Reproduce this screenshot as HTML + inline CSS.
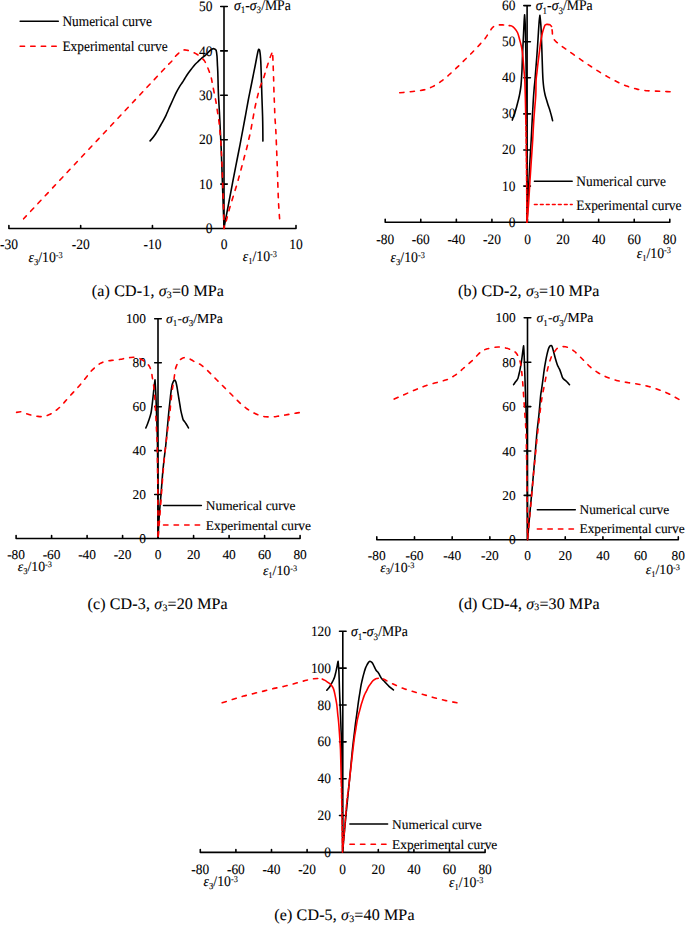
<!DOCTYPE html>
<html><head><meta charset="utf-8"><title>Stress-strain curves</title><style>
html,body{margin:0;padding:0;background:#fff;}
svg{display:block;}
text{font-family:"Liberation Serif",serif;fill:#000;text-rendering:geometricPrecision;}
text.c{stroke:#000;stroke-width:0.1;}
text.cap{letter-spacing:0.16px;stroke:#000;stroke-width:0.1;}
</style></head><body>
<svg width="685" height="925" viewBox="0 0 685 925">
<rect width="685" height="925" fill="#fff"/>
<path d="M8.9,228.5 H296 M8.90,228.5 V225.60 M80.68,228.5 V225.60 M152.45,228.5 V225.60 M224.22,228.5 V225.60 M296.00,228.5 V225.60 M224,6.50 V228.5 M220.7,184.10 H227.3 M220.7,139.70 H227.3 M220.7,95.30 H227.3 M220.7,50.90 H227.3 M220.7,6.50 H227.3" fill="none" stroke="#000" stroke-width="1.6" stroke-linecap="round" stroke-linejoin="round"/>
<text class="c" transform="matrix(1,0,0,1.07,0,-16.317)" x="212.40" y="233.10" font-size="13.5" text-anchor="end">0</text>
<text class="c" transform="matrix(1,0,0,1.07,0,-13.209)" x="212.40" y="188.70" font-size="13.5" text-anchor="end">10</text>
<text class="c" transform="matrix(1,0,0,1.07,0,-10.101)" x="212.40" y="144.30" font-size="13.5" text-anchor="end">20</text>
<text class="c" transform="matrix(1,0,0,1.07,0,-6.993)" x="212.40" y="99.90" font-size="13.5" text-anchor="end">30</text>
<text class="c" transform="matrix(1,0,0,1.07,0,-3.885)" x="212.40" y="55.50" font-size="13.5" text-anchor="end">40</text>
<text class="c" transform="matrix(1,0,0,1.07,0,-0.777)" x="212.40" y="11.10" font-size="13.5" text-anchor="end">50</text>
<text class="c" transform="matrix(1,0,0,1.07,0,-17.430)" x="8.90" y="249.00" font-size="13.5" text-anchor="middle">-30</text>
<text class="c" transform="matrix(1,0,0,1.07,0,-17.430)" x="80.68" y="249.00" font-size="13.5" text-anchor="middle">-20</text>
<text class="c" transform="matrix(1,0,0,1.07,0,-17.430)" x="152.45" y="249.00" font-size="13.5" text-anchor="middle">-10</text>
<text class="c" transform="matrix(1,0,0,1.07,0,-17.430)" x="224.22" y="249.00" font-size="13.5" text-anchor="middle">0</text>
<text class="c" transform="matrix(1,0,0,1.07,0,-17.430)" x="296.00" y="249.00" font-size="13.5" text-anchor="middle">10</text>
<text class="c" transform="matrix(1,0,0,1.07,0,-0.672)" x="234.00" y="9.60" font-size="13.7" text-anchor="start"><tspan font-style="italic">σ</tspan><tspan font-size="9.04" dy="3.42">1</tspan><tspan dy="-3.42">-</tspan><tspan font-style="italic">σ</tspan><tspan font-size="9.04" dy="3.42">3</tspan><tspan dy="-3.42">/MPa</tspan></text>
<text class="c" transform="matrix(1,0,0,1.07,0,-18.340)" x="28.50" y="262.00" font-size="13.8" text-anchor="start"><tspan font-style="italic">ε</tspan><tspan font-size="8.56" dy="2.76">3</tspan><tspan dy="-2.76">/10</tspan><tspan font-size="8.28" dy="-4.00">-3</tspan></text>
<text class="c" transform="matrix(1,0,0,1.07,0,-18.270)" x="242.70" y="261.00" font-size="13.8" text-anchor="start"><tspan font-style="italic">ε</tspan><tspan font-size="8.56" dy="2.76">1</tspan><tspan dy="-2.76">/10</tspan><tspan font-size="8.28" dy="-4.00">-3</tspan></text>
<text class="cap" transform="matrix(1,0,0,1.0,0,0.000)" x="91.80" y="296.30" font-size="16" text-anchor="start"><tspan>(a) CD-1, </tspan><tspan font-style="italic">σ</tspan><tspan font-size="9.92" dy="1.44">3</tspan><tspan dy="-1.44">=0 MPa</tspan></text>
<line x1="20.1" y1="21.2" x2="58.3" y2="21.2" stroke="#000" stroke-width="1.5" stroke-linecap="round"/>
<line x1="20.1" y1="46.3" x2="58.3" y2="46.3" stroke="#ff0000" stroke-width="1.5" stroke-dasharray="4.5 6.05" stroke-linecap="round"/>
<text class="c" transform="matrix(1,0,0,1.08,0,-2.040)" x="62.40" y="25.50" font-size="13.4" text-anchor="start">Numerical curve</text>
<text class="c" transform="matrix(1,0,0,1.08,0,-4.064)" x="62.40" y="50.80" font-size="13.4" text-anchor="start">Experimental curve</text>
<path d="M150.10,140.90 C150.10,140.90 152.27,138.50 153.20,137.30 C154.13,136.10 154.85,134.98 155.70,133.70 C156.55,132.42 157.45,131.05 158.30,129.60 C159.15,128.15 159.95,126.53 160.80,125.00 C161.65,123.47 162.53,122.02 163.40,120.40 C164.27,118.78 165.23,116.92 166.00,115.30 C166.77,113.68 167.33,112.23 168.00,110.70 C168.67,109.17 169.20,107.88 170.00,106.10 C170.80,104.32 171.77,102.25 172.80,100.00 C173.83,97.75 175.10,94.80 176.20,92.60 C177.30,90.40 178.38,88.48 179.40,86.80 C180.42,85.12 181.40,83.88 182.30,82.50 C183.20,81.12 183.93,79.88 184.80,78.50 C185.67,77.12 186.40,75.78 187.50,74.20 C188.60,72.62 190.15,70.62 191.40,69.00 C192.65,67.38 193.82,65.80 195.00,64.50 C196.18,63.20 197.45,62.20 198.50,61.20 C199.55,60.20 200.17,59.48 201.30,58.50 C202.43,57.52 203.95,56.52 205.30,55.30 C206.65,54.08 208.25,52.27 209.40,51.20 C210.46,50.21 211.33,49.28 212.20,48.90 C213.07,48.52 213.93,48.65 214.60,48.90 C215.27,49.15 215.92,49.57 216.20,50.40 C216.60,51.60 216.80,53.82 217.00,56.10 C217.20,58.38 217.27,61.43 217.40,64.10 C217.53,66.77 217.69,68.90 217.80,72.10 C217.97,76.98 218.13,86.78 218.40,93.40 C218.67,100.02 219.08,105.67 219.40,111.80 C219.72,117.93 220.00,124.07 220.30,130.20 C220.60,136.33 220.95,142.80 221.20,148.60 C221.45,154.40 221.58,158.93 221.80,165.00 C222.02,171.07 222.27,178.33 222.50,185.00 C222.73,191.67 222.95,197.87 223.20,205.00 C223.45,212.13 224.00,227.80 224.00,227.80 C224.00,227.80 225.33,220.80 226.00,217.30 C226.67,213.80 227.33,210.30 228.00,206.80 C228.67,203.30 229.33,199.80 230.00,196.30 C230.67,192.80 231.33,189.30 232.00,185.80 C232.67,182.30 233.19,179.50 234.00,175.30 C234.83,171.00 236.00,165.08 237.00,160.00 C238.00,154.92 239.00,150.00 240.00,144.80 C241.00,139.60 242.05,133.88 243.00,128.80 C243.95,123.72 244.82,119.10 245.70,114.30 C246.58,109.50 247.47,104.38 248.30,100.00 C249.13,95.62 249.92,91.92 250.70,88.00 C251.48,84.08 252.25,80.25 253.00,76.50 C253.75,72.75 254.55,68.83 255.20,65.50 C255.85,62.17 256.43,58.88 256.90,56.50 C257.32,54.38 257.68,52.40 258.00,51.20 C258.21,50.40 258.53,49.47 258.80,49.30 C259.07,49.13 259.48,49.73 259.60,50.20 C259.85,51.13 260.11,53.01 260.30,54.90 C260.50,56.87 260.67,59.48 260.80,62.00 C260.93,64.52 260.99,66.80 261.10,70.00 C261.22,73.33 261.38,78.10 261.50,82.00 C261.62,85.90 261.68,89.57 261.80,93.40 C261.92,97.23 262.07,101.10 262.20,105.00 C262.33,108.90 262.50,112.97 262.60,116.80 C262.70,120.63 262.75,123.95 262.80,128.00 C262.85,132.05 262.90,141.10 262.90,141.10" fill="none" stroke="#000" stroke-width="1.6" stroke-linejoin="round" stroke-linecap="round"/>
<path d="M23.60,218.80 C23.60,218.80 144.00,90.47 168.40,64.50 C169.00,63.86 169.38,63.62 170.00,63.00 C170.65,62.35 171.50,61.60 172.30,60.60 C173.10,59.60 173.63,58.31 174.80,57.00 C176.02,55.63 178.12,53.57 179.60,52.40 C181.08,51.23 182.35,50.33 183.70,50.00 C185.05,49.67 186.23,50.07 187.70,50.40 C189.17,50.73 190.90,51.32 192.50,52.00 C194.10,52.68 195.83,53.55 197.30,54.50 C198.77,55.45 200.10,56.63 201.30,57.70 C202.50,58.77 203.57,59.57 204.50,60.90 C205.43,62.23 206.08,63.83 206.90,65.70 C207.72,67.57 208.67,70.05 209.40,72.10 C210.13,74.15 210.78,75.98 211.30,78.00 C211.82,80.02 212.02,81.72 212.50,84.20 C213.00,86.77 213.70,90.33 214.30,93.40 C214.90,96.47 215.57,99.53 216.10,102.60 C216.63,105.67 217.03,108.73 217.50,111.80 C217.97,114.87 218.52,117.93 218.90,121.00 C219.28,124.07 219.52,127.13 219.80,130.20 C220.08,133.27 220.37,136.33 220.60,139.40 C220.83,142.47 221.02,145.53 221.20,148.60 C221.38,151.67 221.53,154.12 221.70,157.80 C221.88,161.70 222.12,167.30 222.30,172.00 C222.48,176.70 222.63,181.33 222.80,186.00 C222.97,190.67 223.15,195.33 223.30,200.00 C223.45,204.67 223.57,209.25 223.70,214.00 C223.83,218.75 224.10,228.50 224.10,228.50" fill="none" stroke="#ff0000" stroke-width="1.6" stroke-dasharray="4.4 6.2" stroke-linejoin="round" stroke-linecap="round"/>
<path d="M279.60,218.80 C279.60,218.80 278.74,207.53 278.40,200.00 C278.00,191.03 277.63,176.67 277.20,165.00 C276.77,153.33 276.18,138.03 275.80,130.00 C275.55,124.71 275.12,120.97 274.90,116.80 C274.68,112.63 274.65,108.90 274.50,105.00 C274.35,101.10 274.15,97.90 274.00,93.40 C273.85,88.90 273.75,82.87 273.60,78.00 C273.45,73.13 273.27,68.63 273.10,64.20 C272.93,59.77 272.60,51.40 272.60,51.40 C272.60,51.40 272.00,52.84 271.60,53.80 C271.20,54.77 270.69,55.81 270.20,57.20 C269.48,59.23 268.12,63.45 267.30,66.00 C266.48,68.55 265.98,70.27 265.30,72.50 C264.62,74.73 264.03,77.08 263.20,79.40 C262.37,81.72 261.25,83.55 260.30,86.40 C259.35,89.25 258.38,93.00 257.50,96.50 C256.62,100.00 255.83,103.32 255.00,107.40 C254.17,111.48 253.27,116.85 252.50,121.00 C251.73,125.15 251.05,129.13 250.40,132.30 C249.76,135.40 249.18,137.47 248.60,140.00 C248.02,142.53 247.57,144.83 246.90,147.50 C246.23,150.17 245.38,153.08 244.60,156.00 C243.82,158.92 243.07,161.75 242.20,165.00 C241.33,168.25 240.37,171.98 239.40,175.50 C238.43,179.02 237.50,182.38 236.40,186.10 C235.30,189.82 233.98,193.92 232.80,197.80 C231.62,201.68 230.35,205.70 229.30,209.40 C228.25,213.10 227.37,216.82 226.50,220.00 C225.63,223.18 224.10,228.50 224.10,228.50" fill="none" stroke="#ff0000" stroke-width="1.6" stroke-dasharray="4.4 6.2" stroke-linejoin="round" stroke-linecap="round"/>
<path d="M385.2,222.2 H669.8 M385.20,222.2 V219.30 M420.77,222.2 V219.30 M456.35,222.2 V219.30 M491.92,222.2 V219.30 M527.50,222.2 V219.30 M563.07,222.2 V219.30 M598.65,222.2 V219.30 M634.22,222.2 V219.30 M669.80,222.2 V219.30 M527.1,5.60 V222.2 M523.8000000000001,186.10 H530.4 M523.8000000000001,150.00 H530.4 M523.8000000000001,113.90 H530.4 M523.8000000000001,77.80 H530.4 M523.8000000000001,41.70 H530.4 M523.8000000000001,5.60 H530.4" fill="none" stroke="#000" stroke-width="1.6" stroke-linecap="round" stroke-linejoin="round"/>
<text class="c" transform="matrix(1,0,0,1.07,0,-15.862)" x="515.40" y="226.60" font-size="13.4" text-anchor="end">0</text>
<text class="c" transform="matrix(1,0,0,1.07,0,-13.335)" x="515.40" y="190.50" font-size="13.4" text-anchor="end">10</text>
<text class="c" transform="matrix(1,0,0,1.07,0,-10.808)" x="515.40" y="154.40" font-size="13.4" text-anchor="end">20</text>
<text class="c" transform="matrix(1,0,0,1.07,0,-8.281)" x="515.40" y="118.30" font-size="13.4" text-anchor="end">30</text>
<text class="c" transform="matrix(1,0,0,1.07,0,-5.754)" x="515.40" y="82.20" font-size="13.4" text-anchor="end">40</text>
<text class="c" transform="matrix(1,0,0,1.07,0,-3.227)" x="515.40" y="46.10" font-size="13.4" text-anchor="end">50</text>
<text class="c" transform="matrix(1,0,0,1.07,0,-0.700)" x="515.40" y="10.00" font-size="13.4" text-anchor="end">60</text>
<text class="c" transform="matrix(1,0,0,1.07,0,-17.045)" x="385.20" y="243.50" font-size="13.4" text-anchor="middle">-80</text>
<text class="c" transform="matrix(1,0,0,1.07,0,-17.045)" x="420.77" y="243.50" font-size="13.4" text-anchor="middle">-60</text>
<text class="c" transform="matrix(1,0,0,1.07,0,-17.045)" x="456.35" y="243.50" font-size="13.4" text-anchor="middle">-40</text>
<text class="c" transform="matrix(1,0,0,1.07,0,-17.045)" x="491.92" y="243.50" font-size="13.4" text-anchor="middle">-20</text>
<text class="c" transform="matrix(1,0,0,1.07,0,-17.045)" x="527.50" y="243.50" font-size="13.4" text-anchor="middle">0</text>
<text class="c" transform="matrix(1,0,0,1.07,0,-17.045)" x="563.07" y="243.50" font-size="13.4" text-anchor="middle">20</text>
<text class="c" transform="matrix(1,0,0,1.07,0,-17.045)" x="598.65" y="243.50" font-size="13.4" text-anchor="middle">40</text>
<text class="c" transform="matrix(1,0,0,1.07,0,-17.045)" x="634.22" y="243.50" font-size="13.4" text-anchor="middle">60</text>
<text class="c" transform="matrix(1,0,0,1.07,0,-17.045)" x="669.80" y="243.50" font-size="13.4" text-anchor="middle">80</text>
<text class="c" transform="matrix(1,0,0,1.07,0,-0.721)" x="535.80" y="10.30" font-size="13.7" text-anchor="start"><tspan font-style="italic">σ</tspan><tspan font-size="9.04" dy="3.42">1</tspan><tspan dy="-3.42">-</tspan><tspan font-style="italic">σ</tspan><tspan font-size="9.04" dy="3.42">3</tspan><tspan dy="-3.42">/MPa</tspan></text>
<text class="c" transform="matrix(1,0,0,1.07,0,-18.333)" x="390.60" y="261.90" font-size="13.8" text-anchor="start"><tspan font-style="italic">ε</tspan><tspan font-size="8.56" dy="2.76">3</tspan><tspan dy="-2.76">/10</tspan><tspan font-size="8.28" dy="-4.00">-3</tspan></text>
<text class="c" transform="matrix(1,0,0,1.07,0,-18.032)" x="671.00" y="257.60" font-size="13.8" text-anchor="end"><tspan font-style="italic">ε</tspan><tspan font-size="8.56" dy="2.76">1</tspan><tspan dy="-2.76">/10</tspan><tspan font-size="8.28" dy="-4.00">-3</tspan></text>
<text class="cap" transform="matrix(1,0,0,1.0,0,0.000)" x="458.10" y="296.30" font-size="16" text-anchor="start"><tspan>(b) CD-2, </tspan><tspan font-style="italic">σ</tspan><tspan font-size="9.92" dy="1.44">3</tspan><tspan dy="-1.44">=10 MPa</tspan></text>
<line x1="534.4" y1="181.3" x2="572.2" y2="181.3" stroke="#000" stroke-width="1.5" stroke-linecap="round"/>
<line x1="534.4" y1="204.6" x2="572.2" y2="204.6" stroke="#ff0000" stroke-width="1.5" stroke-dasharray="2.8 3.2" stroke-linecap="round"/>
<text class="c" transform="matrix(1,0,0,1.07,0,-12.985)" x="576.30" y="185.50" font-size="13.4" text-anchor="start">Numerical curve</text>
<text class="c" transform="matrix(1,0,0,1.07,0,-14.665)" x="576.30" y="209.50" font-size="13.4" text-anchor="start">Experimental curve</text>
<path d="M512.30,120.10 C512.30,120.10 513.08,117.70 513.50,116.50 C513.92,115.30 514.35,114.27 514.80,112.90 C515.25,111.53 515.77,109.83 516.20,108.30 C516.63,106.77 517.02,105.17 517.40,103.70 C517.78,102.23 518.17,100.87 518.50,99.50 C518.83,98.13 519.10,97.00 519.40,95.50 C519.70,94.00 520.03,92.20 520.30,90.50 C520.57,88.80 520.82,87.05 521.00,85.30 C521.18,83.55 521.26,82.12 521.40,80.00 C521.57,77.45 521.82,74.00 522.00,70.00 C522.18,65.92 522.33,59.67 522.50,55.50 C522.67,51.33 522.82,48.80 523.00,45.00 C523.18,41.20 523.42,36.53 523.60,32.70 C523.78,28.87 523.93,24.97 524.10,22.00 C524.26,19.16 524.60,14.90 524.60,14.90 C524.60,14.90 524.96,19.16 525.10,22.00 C525.25,24.97 525.40,28.42 525.50,32.70 C525.63,38.28 525.77,47.62 525.90,55.50 C526.03,63.38 526.20,70.92 526.30,80.00 C526.40,89.08 526.43,98.33 526.50,110.00 C526.57,121.67 526.63,136.67 526.70,150.00 C526.77,163.33 526.83,178.00 526.90,190.00 C526.97,202.00 527.10,222.00 527.10,222.00 C527.10,222.00 528.02,200.33 528.50,190.00 C528.98,179.67 529.55,168.33 530.00,160.00 C530.43,152.00 530.83,146.67 531.20,140.00 C531.57,133.33 531.85,126.67 532.20,120.00 C532.55,113.33 532.97,105.33 533.30,100.00 C533.60,95.20 533.92,91.33 534.20,88.00 C534.47,84.80 534.73,83.20 535.00,80.00 C535.28,76.67 535.58,72.08 535.90,68.00 C536.22,63.92 536.60,59.50 536.90,55.50 C537.20,51.50 537.45,47.80 537.70,44.00 C537.95,40.20 538.15,36.53 538.40,32.70 C538.65,28.87 538.95,23.90 539.20,21.00 C539.40,18.71 539.90,15.30 539.90,15.30 C539.90,15.30 540.40,19.73 540.60,22.00 C540.80,24.27 540.96,26.14 541.10,28.90 C541.25,31.90 541.38,36.83 541.50,40.00 C541.62,43.16 541.69,44.74 541.80,47.90 C541.92,51.23 542.07,55.98 542.20,60.00 C542.33,64.02 542.47,68.67 542.60,72.00 C542.73,75.20 542.80,77.33 543.00,80.00 C543.20,82.67 543.47,85.58 543.80,88.00 C544.13,90.42 544.55,92.53 545.00,94.50 C545.45,96.47 546.00,98.10 546.50,99.80 C547.00,101.50 547.52,103.20 548.00,104.70 C548.48,106.20 548.97,107.43 549.40,108.80 C549.83,110.17 550.23,111.62 550.60,112.90 C550.97,114.18 551.27,115.22 551.60,116.50 C551.93,117.78 552.60,120.60 552.60,120.60" fill="none" stroke="#000" stroke-width="1.6" stroke-linejoin="round" stroke-linecap="round"/>
<path d="M399.70,92.80 C399.70,92.80 403.82,92.42 406.00,92.20 C408.18,91.98 410.80,91.73 412.80,91.50 C414.80,91.27 416.17,91.07 418.00,90.80 C419.83,90.53 422.07,90.28 423.80,89.90 C425.53,89.52 426.93,89.05 428.40,88.50 C429.87,87.95 431.17,87.32 432.60,86.60 C434.03,85.88 435.55,85.10 437.00,84.20 C438.45,83.30 439.83,82.28 441.30,81.20 C442.77,80.12 444.33,78.92 445.80,77.70 C447.27,76.48 448.65,75.22 450.10,73.90 C451.55,72.58 453.05,71.15 454.50,69.80 C455.95,68.45 457.35,67.20 458.80,65.80 C460.25,64.40 461.73,62.85 463.20,61.40 C464.67,59.95 466.13,58.55 467.60,57.10 C469.07,55.65 470.55,54.17 472.00,52.70 C473.45,51.23 474.85,49.83 476.30,48.30 C477.75,46.77 479.23,45.13 480.70,43.50 C482.17,41.87 483.80,40.18 485.10,38.50 C486.40,36.82 487.40,35.05 488.50,33.40 C489.60,31.75 490.78,29.77 491.70,28.60 C492.49,27.60 493.28,26.95 494.00,26.40 C494.72,25.85 495.17,25.55 496.00,25.30 C496.83,25.05 497.90,24.97 499.00,24.90 C500.10,24.83 501.42,24.83 502.60,24.90 C503.78,24.97 505.00,25.18 506.10,25.30 C507.20,25.42 509.20,25.60 509.20,25.60" fill="none" stroke="#ff0000" stroke-width="1.6" stroke-dasharray="4.2 6.3" stroke-linejoin="round" stroke-linecap="round"/>
<path d="M509.20,25.60 C509.20,25.60 510.67,25.49 511.50,25.90 C512.38,26.33 513.49,27.07 514.50,28.20 C515.52,29.33 516.72,30.70 517.60,32.70 C518.48,34.72 519.12,37.77 519.80,40.30 C520.48,42.83 521.18,45.12 521.70,47.90 C522.22,50.68 522.53,53.35 522.90,57.00 C523.28,60.78 523.68,66.77 524.00,70.60 C524.31,74.36 524.62,76.23 524.80,80.00 C525.03,84.90 525.23,93.33 525.40,100.00 C525.57,106.67 525.80,120.00 525.80,120.00" fill="none" stroke="#ff0000" stroke-width="1.6" stroke-linejoin="round" stroke-linecap="round"/>
<path d="M525.80,120.00 C525.80,120.00 525.94,126.00 526.00,130.00 C526.10,136.67 526.28,150.00 526.40,160.00 C526.52,170.00 526.60,179.62 526.70,190.00 C526.80,200.38 527.00,222.30 527.00,222.30" fill="none" stroke="#ff0000" stroke-width="1.6" stroke-dasharray="4.5 1.8" stroke-linejoin="round" stroke-linecap="round"/>
<path d="M527.00,222.30 C527.00,222.30 528.01,211.93 528.50,205.00 C529.00,197.95 529.50,187.83 530.00,180.00 C530.50,172.17 531.05,164.67 531.50,158.00 C531.95,151.33 532.32,146.33 532.70,140.00 C533.08,133.67 533.42,125.83 533.80,120.00 C534.18,114.17 534.67,109.17 535.00,105.00 C535.32,101.00 535.62,99.01 535.80,95.00 C535.98,90.83 535.90,83.83 536.10,80.00 C536.27,76.78 536.68,74.83 537.00,72.00 C537.32,69.17 537.67,65.83 538.00,63.00 C538.33,60.17 538.68,57.52 539.00,55.00 C539.32,52.48 539.60,50.23 539.90,47.90 C540.20,45.57 540.48,43.02 540.80,41.00 C541.12,38.98 541.52,37.22 541.80,35.80 C542.06,34.48 542.25,33.52 542.50,32.50 C542.75,31.48 542.92,30.80 543.30,29.70 C543.72,28.48 544.52,26.08 545.00,25.20 C545.28,24.69 545.78,24.53 546.20,24.40 C546.62,24.27 547.03,24.37 547.50,24.40 C547.97,24.43 548.57,24.52 549.00,24.60 C549.43,24.68 549.73,24.63 550.10,24.90 C550.53,25.22 551.60,26.50 551.60,26.50" fill="none" stroke="#ff0000" stroke-width="1.6" stroke-linejoin="round" stroke-linecap="round"/>
<path d="M670.10,91.70 C670.10,91.70 666.58,91.57 664.80,91.50 C663.02,91.43 661.37,91.38 659.40,91.30 C657.43,91.22 655.03,91.10 653.00,91.00 C650.97,90.90 649.03,90.87 647.20,90.70 C645.37,90.53 643.70,90.27 642.00,90.00 C640.30,89.73 638.67,89.48 637.00,89.10 C635.33,88.72 633.72,88.22 632.00,87.70 C630.28,87.18 628.43,86.63 626.70,86.00 C624.97,85.37 623.30,84.65 621.60,83.90 C619.90,83.15 618.20,82.33 616.50,81.50 C614.80,80.67 613.10,79.82 611.40,78.90 C609.70,77.98 608.00,76.98 606.30,76.00 C604.60,75.02 602.90,74.02 601.20,73.00 C599.50,71.98 597.80,70.98 596.10,69.90 C594.40,68.82 592.70,67.63 591.00,66.50 C589.30,65.37 587.60,64.25 585.90,63.10 C584.20,61.95 582.50,60.78 580.80,59.60 C579.10,58.42 577.50,57.27 575.70,56.00 C573.90,54.73 571.72,53.20 570.00,52.00 C568.28,50.80 566.85,49.82 565.40,48.80 C563.95,47.78 562.65,46.92 561.30,45.90 C559.95,44.88 558.48,43.73 557.30,42.70 C556.12,41.67 554.98,40.87 554.20,39.70 C553.42,38.53 552.92,37.05 552.60,35.70 C552.28,34.35 552.47,33.13 552.30,31.60 C552.13,30.07 551.60,26.50 551.60,26.50" fill="none" stroke="#ff0000" stroke-width="1.6" stroke-dasharray="4.2 6.3" stroke-linejoin="round" stroke-linecap="round"/>
<path d="M16.1,538.5 H300.1 M16.10,538.5 V535.60 M51.60,538.5 V535.60 M87.10,538.5 V535.60 M122.60,538.5 V535.60 M158.10,538.5 V535.60 M193.60,538.5 V535.60 M229.10,538.5 V535.60 M264.60,538.5 V535.60 M300.10,538.5 V535.60 M158,318.80 V538.5 M154.7,494.56 H161.3 M154.7,450.62 H161.3 M154.7,406.68 H161.3 M154.7,362.74 H161.3 M154.7,318.80 H161.3" fill="none" stroke="#000" stroke-width="1.6" stroke-linecap="round" stroke-linejoin="round"/>
<text class="c" transform="matrix(1,0,0,1.0,0,0.000)" x="146.00" y="543.10" font-size="13.4" text-anchor="end">0</text>
<text class="c" transform="matrix(1,0,0,1.0,0,0.000)" x="146.00" y="499.16" font-size="13.4" text-anchor="end">20</text>
<text class="c" transform="matrix(1,0,0,1.0,0,0.000)" x="146.00" y="455.22" font-size="13.4" text-anchor="end">40</text>
<text class="c" transform="matrix(1,0,0,1.0,0,0.000)" x="146.00" y="411.28" font-size="13.4" text-anchor="end">60</text>
<text class="c" transform="matrix(1,0,0,1.0,0,0.000)" x="146.00" y="367.34" font-size="13.4" text-anchor="end">80</text>
<text class="c" transform="matrix(1,0,0,1.0,0,0.000)" x="146.00" y="323.40" font-size="13.4" text-anchor="end">100</text>
<text class="c" transform="matrix(1,0,0,1.0,0,0.000)" x="16.10" y="558.90" font-size="13.4" text-anchor="middle">-80</text>
<text class="c" transform="matrix(1,0,0,1.0,0,0.000)" x="51.60" y="558.90" font-size="13.4" text-anchor="middle">-60</text>
<text class="c" transform="matrix(1,0,0,1.0,0,0.000)" x="87.10" y="558.90" font-size="13.4" text-anchor="middle">-40</text>
<text class="c" transform="matrix(1,0,0,1.0,0,0.000)" x="122.60" y="558.90" font-size="13.4" text-anchor="middle">-20</text>
<text class="c" transform="matrix(1,0,0,1.0,0,0.000)" x="158.10" y="558.90" font-size="13.4" text-anchor="middle">0</text>
<text class="c" transform="matrix(1,0,0,1.0,0,0.000)" x="193.60" y="558.90" font-size="13.4" text-anchor="middle">20</text>
<text class="c" transform="matrix(1,0,0,1.0,0,0.000)" x="229.10" y="558.90" font-size="13.4" text-anchor="middle">40</text>
<text class="c" transform="matrix(1,0,0,1.0,0,0.000)" x="264.60" y="558.90" font-size="13.4" text-anchor="middle">60</text>
<text class="c" transform="matrix(1,0,0,1.0,0,0.000)" x="300.10" y="558.90" font-size="13.4" text-anchor="middle">80</text>
<text class="c" transform="matrix(1,0,0,1.0,0,0.000)" x="166.10" y="322.80" font-size="13.7" text-anchor="start"><tspan font-style="italic">σ</tspan><tspan font-size="9.04" dy="3.42">1</tspan><tspan dy="-3.42">-</tspan><tspan font-style="italic">σ</tspan><tspan font-size="9.04" dy="3.42">3</tspan><tspan dy="-3.42">/MPa</tspan></text>
<text class="c" transform="matrix(1,0,0,1.0,0,0.000)" x="17.70" y="571.20" font-size="13.8" text-anchor="start"><tspan font-style="italic">ε</tspan><tspan font-size="8.56" dy="2.76">3</tspan><tspan dy="-2.76">/10</tspan><tspan font-size="8.28" dy="-4.00">-3</tspan></text>
<text class="c" transform="matrix(1,0,0,1.0,0,0.000)" x="262.90" y="575.00" font-size="13.8" text-anchor="start"><tspan font-style="italic">ε</tspan><tspan font-size="8.56" dy="2.76">1</tspan><tspan dy="-2.76">/10</tspan><tspan font-size="8.28" dy="-4.00">-3</tspan></text>
<text class="cap" transform="matrix(1,0,0,1.0,0,0.000)" x="87.40" y="609.20" font-size="16" text-anchor="start"><tspan>(c) CD-3, </tspan><tspan font-style="italic">σ</tspan><tspan font-size="9.92" dy="1.44">3</tspan><tspan dy="-1.44">=20 MPa</tspan></text>
<line x1="163.5" y1="505.4" x2="201.4" y2="505.4" stroke="#000" stroke-width="1.5" stroke-linecap="round"/>
<line x1="163.5" y1="524.9" x2="201.4" y2="524.9" stroke="#ff0000" stroke-width="1.5" stroke-dasharray="4.5 6.05" stroke-linecap="round"/>
<text class="c" transform="matrix(1,0,0,1.0,0,0.000)" x="205.80" y="510.00" font-size="13.4" text-anchor="start">Numerical curve</text>
<text class="c" transform="matrix(1,0,0,1.0,0,0.000)" x="205.80" y="529.50" font-size="13.4" text-anchor="start">Experimental curve</text>
<path d="M145.80,428.00 C145.80,428.00 146.95,425.40 147.50,424.00 C148.05,422.60 148.65,420.93 149.10,419.60 C149.55,418.27 149.85,417.27 150.20,416.00 C150.55,414.73 150.91,413.62 151.20,412.00 C151.50,410.33 151.73,408.15 152.00,406.00 C152.27,403.85 152.55,401.35 152.80,399.10 C153.05,396.85 153.27,394.67 153.50,392.50 C153.73,390.33 153.95,388.22 154.20,386.10 C154.45,383.98 155.00,379.80 155.00,379.80 C155.00,379.80 155.27,383.70 155.40,386.00 C155.53,388.30 155.68,391.10 155.80,393.60 C155.92,396.10 156.00,398.28 156.10,401.00 C156.20,403.72 156.28,406.73 156.40,409.90 C156.52,413.07 156.67,416.40 156.80,420.00 C156.93,423.60 157.08,427.33 157.20,431.50 C157.32,435.67 157.43,439.60 157.50,445.00 C157.60,453.08 157.71,466.00 157.80,480.00 C157.90,495.50 158.10,538.00 158.10,538.00 C158.10,538.00 158.82,522.25 159.30,515.00 C159.78,507.75 160.47,501.17 161.00,494.50 C161.53,487.83 162.00,480.75 162.50,475.00 C163.00,469.25 163.45,465.00 164.00,460.00 C164.55,455.00 165.32,449.50 165.80,445.00 C166.28,440.50 166.53,437.05 166.90,433.00 C167.27,428.95 167.68,424.20 168.00,420.70 C168.31,417.22 168.53,414.70 168.80,412.00 C169.07,409.30 169.33,407.00 169.60,404.50 C169.87,402.00 170.13,399.35 170.40,397.00 C170.67,394.65 170.93,392.32 171.20,390.40 C171.47,388.48 171.73,386.77 172.00,385.50 C172.23,384.40 172.47,383.63 172.80,382.80 C173.13,381.97 173.67,380.95 174.00,380.50 C174.21,380.21 174.55,380.02 174.80,380.10 C175.05,380.18 175.30,380.59 175.50,381.00 C175.72,381.45 175.92,382.06 176.10,382.80 C176.35,383.80 176.73,385.55 177.00,387.00 C177.27,388.45 177.45,389.95 177.70,391.50 C177.95,393.05 178.23,394.68 178.50,396.30 C178.77,397.92 179.03,399.58 179.30,401.20 C179.57,402.82 179.83,404.38 180.10,406.00 C180.37,407.62 180.58,409.32 180.90,410.90 C181.22,412.48 181.63,414.05 182.00,415.50 C182.37,416.95 182.68,418.60 183.10,419.60 C183.46,420.47 184.05,420.87 184.50,421.50 C184.95,422.13 185.35,422.72 185.80,423.40 C186.25,424.08 186.75,424.83 187.20,425.60 C187.65,426.37 188.50,428.00 188.50,428.00" fill="none" stroke="#000" stroke-width="1.6" stroke-linejoin="round" stroke-linecap="round"/>
<path d="M16.60,412.40 C16.60,412.40 19.58,411.73 20.90,411.80 C22.22,411.87 23.40,412.43 24.50,412.80 C25.60,413.17 26.42,413.63 27.50,414.00 C28.58,414.37 29.90,414.72 31.00,415.00 C32.10,415.28 32.93,415.47 34.10,415.70 C35.27,415.93 36.73,416.25 38.00,416.40 C39.27,416.55 40.45,416.68 41.70,416.60 C42.95,416.52 44.22,416.23 45.50,415.90 C46.78,415.57 48.10,415.18 49.40,414.60 C50.70,414.02 52.02,413.23 53.30,412.40 C54.58,411.57 55.82,410.67 57.10,409.60 C58.38,408.53 59.73,407.28 61.00,406.00 C62.27,404.72 63.37,403.40 64.70,401.90 C66.03,400.40 67.53,398.63 69.00,397.00 C70.47,395.37 72.00,393.73 73.50,392.10 C75.00,390.47 76.53,388.85 78.00,387.20 C79.47,385.55 80.85,383.95 82.30,382.20 C83.75,380.45 85.25,378.52 86.70,376.70 C88.15,374.88 89.53,372.92 91.00,371.30 C92.47,369.68 94.03,368.28 95.50,367.00 C96.97,365.72 98.38,364.47 99.80,363.60 C101.22,362.73 102.55,362.27 104.00,361.80 C105.45,361.33 107.00,361.05 108.50,360.80 C110.00,360.55 111.53,360.45 113.00,360.30 C114.47,360.15 116.03,360.07 117.30,359.90 C118.57,359.73 119.50,359.52 120.60,359.30 C121.70,359.08 122.83,358.82 123.90,358.60 C124.97,358.38 125.92,358.18 127.00,358.00 C128.08,357.82 129.23,357.62 130.40,357.50 C131.57,357.38 132.70,357.22 134.00,357.30 C135.30,357.38 136.87,357.58 138.20,358.00 C139.53,358.42 140.73,359.08 142.00,359.80 C143.27,360.52 144.72,361.43 145.80,362.30 C146.88,363.17 147.78,364.10 148.50,365.00 C149.22,365.90 149.61,366.55 150.10,367.70 C150.60,368.87 151.13,370.38 151.50,372.00 C151.87,373.62 151.98,375.42 152.30,377.40 C152.62,379.38 153.05,381.29 153.40,383.90 C153.77,386.60 154.19,389.71 154.50,393.60 C154.85,397.93 155.15,403.58 155.50,409.90 C155.85,416.22 156.32,425.65 156.60,431.50 C156.86,436.90 157.06,439.60 157.20,445.00 C157.37,451.42 157.48,460.83 157.60,470.00 C157.72,479.17 157.82,488.62 157.90,500.00 C157.98,511.38 158.10,538.30 158.10,538.30" fill="none" stroke="#ff0000" stroke-width="1.6" stroke-dasharray="4.2 6.3" stroke-linejoin="round" stroke-linecap="round"/>
<path d="M299.20,412.60 C299.20,412.60 297.20,412.93 296.20,413.10 C295.20,413.27 294.35,413.40 293.20,413.60 C292.05,413.80 290.60,414.07 289.30,414.30 C288.00,414.53 286.70,414.77 285.40,415.00 C284.10,415.23 282.82,415.48 281.50,415.70 C280.18,415.92 278.82,416.12 277.50,416.30 C276.18,416.48 274.92,416.70 273.60,416.80 C272.28,416.90 270.93,416.92 269.60,416.90 C268.27,416.88 266.92,416.85 265.60,416.70 C264.28,416.55 263.00,416.33 261.70,416.00 C260.40,415.67 259.12,415.20 257.80,414.70 C256.48,414.20 255.10,413.65 253.80,413.00 C252.50,412.35 251.30,411.62 250.00,410.80 C248.70,409.98 247.33,409.10 246.00,408.10 C244.67,407.10 243.32,405.95 242.00,404.80 C240.68,403.65 239.40,402.45 238.10,401.20 C236.80,399.95 235.52,398.62 234.20,397.30 C232.88,395.98 231.52,394.62 230.20,393.30 C228.88,391.98 227.62,390.72 226.30,389.40 C224.98,388.08 223.62,386.72 222.30,385.40 C220.98,384.08 219.72,382.82 218.40,381.50 C217.08,380.18 215.63,378.75 214.40,377.50 C213.17,376.25 212.15,375.15 211.00,374.00 C209.85,372.85 208.67,371.70 207.50,370.60 C206.33,369.50 205.15,368.38 204.00,367.40 C202.85,366.42 201.65,365.40 200.60,364.70 C199.55,364.00 198.68,363.68 197.70,363.20 C196.72,362.72 195.70,362.33 194.70,361.80 C193.70,361.27 192.68,360.55 191.70,360.00 C190.72,359.45 189.75,358.90 188.80,358.50 C187.85,358.10 186.87,357.72 186.00,357.60 C185.13,357.48 184.27,357.65 183.60,357.80 C182.93,357.95 182.53,358.20 182.00,358.50 C181.47,358.80 180.90,359.15 180.40,359.60 C179.90,360.05 179.45,360.57 179.00,361.20 C178.55,361.83 178.12,362.63 177.70,363.40 C177.28,364.17 176.87,364.90 176.50,365.80 C176.13,366.70 175.77,367.56 175.50,368.80 C175.20,370.17 174.97,372.20 174.70,374.00 C174.43,375.80 174.20,377.60 173.90,379.60 C173.60,381.60 173.25,383.67 172.90,386.00 C172.55,388.33 172.17,390.60 171.80,393.60 C171.43,396.60 171.07,400.38 170.70,404.00 C170.33,407.62 169.97,412.13 169.60,415.30 C169.24,418.39 168.87,420.30 168.50,423.00 C168.13,425.70 167.82,428.10 167.40,431.50 C166.95,435.17 166.37,439.92 165.80,445.00 C165.23,450.08 164.55,456.17 164.00,462.00 C163.45,467.83 163.00,473.67 162.50,480.00 C162.00,486.33 161.50,493.33 161.00,500.00 C160.50,506.67 159.98,513.62 159.50,520.00 C159.02,526.38 158.10,538.30 158.10,538.30" fill="none" stroke="#ff0000" stroke-width="1.6" stroke-dasharray="4.2 6.3" stroke-linejoin="round" stroke-linecap="round"/>
<path d="M376.8,539.8 H678.3 M376.80,539.8 V536.90 M414.49,539.8 V536.90 M452.18,539.8 V536.90 M489.86,539.8 V536.90 M527.55,539.8 V536.90 M565.24,539.8 V536.90 M602.92,539.8 V536.90 M640.61,539.8 V536.90 M678.30,539.8 V536.90 M527.5,317.80 V539.8 M524.2,495.40 H530.8 M524.2,451.00 H530.8 M524.2,406.60 H530.8 M524.2,362.20 H530.8 M524.2,317.80 H530.8" fill="none" stroke="#000" stroke-width="1.6" stroke-linecap="round" stroke-linejoin="round"/>
<text class="c" transform="matrix(1,0,0,1.0,0,0.000)" x="515.60" y="544.40" font-size="13.4" text-anchor="end">0</text>
<text class="c" transform="matrix(1,0,0,1.0,0,0.000)" x="515.60" y="500.00" font-size="13.4" text-anchor="end">20</text>
<text class="c" transform="matrix(1,0,0,1.0,0,0.000)" x="515.60" y="455.60" font-size="13.4" text-anchor="end">40</text>
<text class="c" transform="matrix(1,0,0,1.0,0,0.000)" x="515.60" y="411.20" font-size="13.4" text-anchor="end">60</text>
<text class="c" transform="matrix(1,0,0,1.0,0,0.000)" x="515.60" y="366.80" font-size="13.4" text-anchor="end">80</text>
<text class="c" transform="matrix(1,0,0,1.0,0,0.000)" x="515.60" y="322.40" font-size="13.4" text-anchor="end">100</text>
<text class="c" transform="matrix(1,0,0,1.0,0,0.000)" x="376.80" y="559.80" font-size="13.4" text-anchor="middle">-80</text>
<text class="c" transform="matrix(1,0,0,1.0,0,0.000)" x="414.49" y="559.80" font-size="13.4" text-anchor="middle">-60</text>
<text class="c" transform="matrix(1,0,0,1.0,0,0.000)" x="452.18" y="559.80" font-size="13.4" text-anchor="middle">-40</text>
<text class="c" transform="matrix(1,0,0,1.0,0,0.000)" x="489.86" y="559.80" font-size="13.4" text-anchor="middle">-20</text>
<text class="c" transform="matrix(1,0,0,1.0,0,0.000)" x="527.55" y="559.80" font-size="13.4" text-anchor="middle">0</text>
<text class="c" transform="matrix(1,0,0,1.0,0,0.000)" x="565.24" y="559.80" font-size="13.4" text-anchor="middle">20</text>
<text class="c" transform="matrix(1,0,0,1.0,0,0.000)" x="602.92" y="559.80" font-size="13.4" text-anchor="middle">40</text>
<text class="c" transform="matrix(1,0,0,1.0,0,0.000)" x="640.61" y="559.80" font-size="13.4" text-anchor="middle">60</text>
<text class="c" transform="matrix(1,0,0,1.0,0,0.000)" x="678.30" y="559.80" font-size="13.4" text-anchor="middle">80</text>
<text class="c" transform="matrix(1,0,0,1.0,0,0.000)" x="536.60" y="322.30" font-size="13.7" text-anchor="start"><tspan font-style="italic">σ</tspan><tspan font-size="9.04" dy="3.42">1</tspan><tspan dy="-3.42">-</tspan><tspan font-style="italic">σ</tspan><tspan font-size="9.04" dy="3.42">3</tspan><tspan dy="-3.42">/MPa</tspan></text>
<text class="c" transform="matrix(1,0,0,1.0,0,0.000)" x="380.20" y="571.60" font-size="13.8" text-anchor="start"><tspan font-style="italic">ε</tspan><tspan font-size="8.56" dy="2.76">3</tspan><tspan dy="-2.76">/10</tspan><tspan font-size="8.28" dy="-4.00">-3</tspan></text>
<text class="c" transform="matrix(1,0,0,1.0,0,0.000)" x="680.00" y="574.40" font-size="13.8" text-anchor="end"><tspan font-style="italic">ε</tspan><tspan font-size="8.56" dy="2.76">1</tspan><tspan dy="-2.76">/10</tspan><tspan font-size="8.28" dy="-4.00">-3</tspan></text>
<text class="cap" transform="matrix(1,0,0,1.0,0,0.000)" x="458.40" y="608.60" font-size="16" text-anchor="start"><tspan>(d) CD-4, </tspan><tspan font-style="italic">σ</tspan><tspan font-size="9.92" dy="1.44">3</tspan><tspan dy="-1.44">=30 MPa</tspan></text>
<line x1="537.3" y1="509.8" x2="575.3" y2="509.8" stroke="#000" stroke-width="1.5" stroke-linecap="round"/>
<line x1="537.3" y1="528.9" x2="575.3" y2="528.9" stroke="#ff0000" stroke-width="1.5" stroke-dasharray="4.5 6.05" stroke-linecap="round"/>
<text class="c" transform="matrix(1,0,0,1.0,0,0.000)" x="579.50" y="513.80" font-size="13.4" text-anchor="start">Numerical curve</text>
<text class="c" transform="matrix(1,0,0,1.0,0,0.000)" x="579.50" y="533.30" font-size="13.4" text-anchor="start">Experimental curve</text>
<path d="M513.60,384.70 C513.60,384.70 514.33,383.53 514.70,383.00 C515.07,382.47 515.42,382.00 515.80,381.50 C516.18,381.00 516.63,380.55 517.00,380.00 C517.37,379.45 517.72,378.97 518.00,378.20 C518.30,377.37 518.53,376.08 518.80,375.00 C519.07,373.92 519.33,372.95 519.60,371.70 C519.87,370.45 520.13,368.93 520.40,367.50 C520.67,366.07 520.93,364.77 521.20,363.10 C521.47,361.43 521.73,359.48 522.00,357.50 C522.27,355.52 522.58,352.87 522.80,351.20 C522.99,349.72 523.17,348.40 523.30,347.50 C523.40,346.82 523.60,345.80 523.60,345.80 C523.60,345.80 523.81,348.32 523.90,350.00 C524.00,351.80 524.10,354.18 524.20,356.60 C524.30,359.02 524.40,361.80 524.50,364.50 C524.60,367.20 524.70,369.72 524.80,372.80 C524.90,375.88 524.98,379.40 525.10,383.00 C525.22,386.60 525.35,390.23 525.50,394.40 C525.65,398.57 525.85,403.50 526.00,408.00 C526.15,412.50 526.25,416.92 526.40,421.40 C526.55,425.88 526.83,429.50 526.90,434.90 C527.03,444.67 527.10,462.52 527.20,480.00 C527.30,497.48 527.50,539.80 527.50,539.80 C527.50,539.80 528.50,528.63 529.00,523.00 C529.50,517.37 529.97,511.83 530.50,506.00 C531.03,500.17 531.65,494.00 532.20,488.00 C532.75,482.00 533.27,476.17 533.80,470.00 C534.33,463.83 534.87,457.33 535.40,451.00 C535.93,444.67 536.40,438.17 537.00,432.00 C537.60,425.83 538.38,420.17 539.00,414.00 C539.62,407.83 540.25,399.22 540.70,395.00 C540.97,392.46 541.34,391.23 541.70,388.70 C542.08,386.03 542.57,382.25 543.00,379.00 C543.43,375.75 543.87,372.13 544.30,369.20 C544.73,366.27 545.17,363.78 545.60,361.40 C546.03,359.02 546.47,356.85 546.90,354.90 C547.33,352.95 547.82,350.98 548.20,349.70 C548.51,348.67 548.88,347.85 549.20,347.20 C549.49,346.60 549.77,346.07 550.10,345.80 C550.43,345.53 550.87,345.48 551.20,345.60 C551.53,345.72 551.91,346.03 552.10,346.50 C552.47,347.40 552.91,349.19 553.40,351.00 C553.93,352.95 554.65,355.92 555.30,358.20 C555.95,360.48 556.75,363.15 557.30,364.70 C557.71,365.86 558.23,366.75 558.60,367.50 C558.94,368.19 559.25,368.68 559.50,369.20 C559.75,369.72 559.89,370.03 560.10,370.60 C560.38,371.37 560.83,372.72 561.20,373.80 C561.57,374.88 561.95,376.27 562.30,377.10 C562.61,377.83 562.85,378.28 563.30,378.80 C563.75,379.32 564.45,379.75 565.00,380.20 C565.55,380.65 566.10,381.03 566.60,381.50 C567.10,381.97 567.52,382.47 568.00,383.00 C568.48,383.53 569.50,384.70 569.50,384.70" fill="none" stroke="#000" stroke-width="1.6" stroke-linejoin="round" stroke-linecap="round"/>
<path d="M394.20,399.10 C394.20,399.10 397.35,397.63 399.00,396.90 C400.65,396.17 402.35,395.47 404.10,394.70 C405.85,393.93 407.68,393.10 409.50,392.30 C411.32,391.50 413.33,390.60 415.00,389.90 C416.67,389.20 418.03,388.68 419.50,388.10 C420.97,387.52 422.22,386.98 423.80,386.40 C425.38,385.82 427.18,385.15 429.00,384.60 C430.82,384.05 432.87,383.60 434.70,383.10 C436.53,382.60 438.17,382.10 440.00,381.60 C441.83,381.10 444.03,380.65 445.70,380.10 C447.37,379.55 448.55,379.03 450.00,378.30 C451.45,377.57 452.90,376.70 454.40,375.70 C455.90,374.70 457.53,373.50 459.00,372.30 C460.47,371.10 461.78,369.77 463.20,368.50 C464.62,367.23 466.03,365.98 467.50,364.70 C468.97,363.42 470.50,362.22 472.00,360.80 C473.50,359.38 475.05,357.67 476.50,356.20 C477.95,354.73 479.45,353.03 480.70,352.00 C481.89,351.02 482.90,350.53 484.00,350.00 C485.10,349.47 485.94,349.17 487.30,348.80 C488.72,348.42 490.68,348.00 492.50,347.70 C494.32,347.40 496.53,347.07 498.20,347.00 C499.87,346.93 501.03,347.08 502.50,347.30 C503.97,347.52 505.67,347.93 507.00,348.30 C508.33,348.67 509.40,349.07 510.50,349.50 C511.60,349.93 512.60,350.23 513.60,350.90 C514.60,351.57 515.68,352.48 516.50,353.50 C517.32,354.52 517.95,355.83 518.50,357.00 C519.05,358.17 519.43,359.30 519.80,360.50 C520.17,361.70 520.45,362.70 520.70,364.20 C521.02,366.07 521.37,368.69 521.70,371.70 C522.05,374.93 522.43,378.92 522.80,383.60 C523.17,388.28 523.53,394.40 523.90,399.80 C524.27,405.20 524.63,410.15 525.00,416.00 C525.37,421.85 525.88,427.33 526.10,434.90 C526.42,445.57 526.65,462.52 526.90,480.00 C527.15,497.48 527.60,539.80 527.60,539.80" fill="none" stroke="#ff0000" stroke-width="1.6" stroke-dasharray="4.2 6.3" stroke-linejoin="round" stroke-linecap="round"/>
<path d="M678.90,399.40 C678.90,399.40 675.08,397.23 673.20,396.20 C671.32,395.17 669.38,394.05 667.60,393.20 C665.82,392.35 664.20,391.77 662.50,391.10 C660.80,390.43 659.10,389.80 657.40,389.20 C655.70,388.60 654.00,388.02 652.30,387.50 C650.60,386.98 648.90,386.52 647.20,386.10 C645.50,385.68 643.80,385.35 642.10,385.00 C640.40,384.65 638.72,384.30 637.00,384.00 C635.28,383.70 633.52,383.47 631.80,383.20 C630.08,382.93 628.40,382.68 626.70,382.40 C625.00,382.12 623.30,381.83 621.60,381.50 C619.90,381.17 618.20,380.85 616.50,380.40 C614.80,379.95 613.10,379.38 611.40,378.80 C609.70,378.22 607.83,377.53 606.30,376.90 C604.77,376.27 603.57,375.68 602.20,375.00 C600.83,374.32 599.47,373.65 598.10,372.80 C596.73,371.95 595.35,370.92 594.00,369.90 C592.65,368.88 591.18,367.75 590.00,366.70 C588.82,365.65 587.93,364.63 586.90,363.60 C585.87,362.57 584.82,361.52 583.80,360.50 C582.78,359.48 581.82,358.52 580.80,357.50 C579.78,356.48 578.73,355.40 577.70,354.40 C576.67,353.40 575.62,352.35 574.60,351.50 C573.58,350.65 572.62,349.95 571.60,349.30 C570.58,348.65 569.53,348.02 568.50,347.60 C567.47,347.18 566.43,346.97 565.40,346.80 C564.37,346.63 563.22,346.55 562.30,346.60 C561.38,346.65 560.73,346.80 559.90,347.10 C559.07,347.40 558.19,347.65 557.30,348.40 C556.38,349.17 555.22,350.72 554.40,351.70 C553.58,352.68 552.97,353.28 552.40,354.30 C551.83,355.32 551.48,356.50 551.00,357.80 C550.52,359.10 550.02,360.42 549.50,362.10 C548.98,363.78 548.45,365.63 547.90,367.90 C547.35,370.17 546.75,372.98 546.20,375.70 C545.65,378.42 545.13,381.48 544.60,384.20 C544.07,386.92 543.48,389.47 543.00,392.00 C542.52,394.53 542.13,396.43 541.70,399.40 C541.17,403.07 540.47,408.57 539.80,414.00 C539.13,419.43 538.37,425.83 537.70,432.00 C537.03,438.17 536.43,444.67 535.80,451.00 C535.17,457.33 534.48,463.83 533.90,470.00 C533.32,476.17 532.83,482.00 532.30,488.00 C531.77,494.00 531.23,500.17 530.70,506.00 C530.17,511.83 529.62,517.37 529.10,523.00 C528.58,528.63 527.60,539.80 527.60,539.80" fill="none" stroke="#ff0000" stroke-width="1.6" stroke-dasharray="4.2 6.3" stroke-linejoin="round" stroke-linecap="round"/>
<path d="M200.3,852.4 H485.1 M200.30,852.4 V849.50 M235.90,852.4 V849.50 M271.50,852.4 V849.50 M307.10,852.4 V849.50 M342.70,852.4 V849.50 M378.30,852.4 V849.50 M413.90,852.4 V849.50 M449.50,852.4 V849.50 M485.10,852.4 V849.50 M342.8,631.30 V852.4 M339.5,815.55 H346.1 M339.5,778.70 H346.1 M339.5,741.85 H346.1 M339.5,705.00 H346.1 M339.5,668.15 H346.1 M339.5,631.30 H346.1" fill="none" stroke="#000" stroke-width="1.6" stroke-linecap="round" stroke-linejoin="round"/>
<text class="c" transform="matrix(1,0,0,1.07,0,-59.990)" x="331.00" y="857.00" font-size="13.4" text-anchor="end">0</text>
<text class="c" transform="matrix(1,0,0,1.07,0,-57.411)" x="331.00" y="820.15" font-size="13.4" text-anchor="end">20</text>
<text class="c" transform="matrix(1,0,0,1.07,0,-54.831)" x="331.00" y="783.30" font-size="13.4" text-anchor="end">40</text>
<text class="c" transform="matrix(1,0,0,1.07,0,-52.252)" x="331.00" y="746.45" font-size="13.4" text-anchor="end">60</text>
<text class="c" transform="matrix(1,0,0,1.07,0,-49.672)" x="331.00" y="709.60" font-size="13.4" text-anchor="end">80</text>
<text class="c" transform="matrix(1,0,0,1.07,0,-47.093)" x="331.00" y="672.75" font-size="13.4" text-anchor="end">100</text>
<text class="c" transform="matrix(1,0,0,1.07,0,-44.513)" x="331.00" y="635.90" font-size="13.4" text-anchor="end">120</text>
<text class="c" transform="matrix(1,0,0,1.07,0,-61.152)" x="200.30" y="873.60" font-size="13.4" text-anchor="middle">-80</text>
<text class="c" transform="matrix(1,0,0,1.07,0,-61.152)" x="235.90" y="873.60" font-size="13.4" text-anchor="middle">-60</text>
<text class="c" transform="matrix(1,0,0,1.07,0,-61.152)" x="271.50" y="873.60" font-size="13.4" text-anchor="middle">-40</text>
<text class="c" transform="matrix(1,0,0,1.07,0,-61.152)" x="307.10" y="873.60" font-size="13.4" text-anchor="middle">-20</text>
<text class="c" transform="matrix(1,0,0,1.07,0,-61.152)" x="342.70" y="873.60" font-size="13.4" text-anchor="middle">0</text>
<text class="c" transform="matrix(1,0,0,1.07,0,-61.152)" x="378.30" y="873.60" font-size="13.4" text-anchor="middle">20</text>
<text class="c" transform="matrix(1,0,0,1.07,0,-61.152)" x="413.90" y="873.60" font-size="13.4" text-anchor="middle">40</text>
<text class="c" transform="matrix(1,0,0,1.07,0,-61.152)" x="449.50" y="873.60" font-size="13.4" text-anchor="middle">60</text>
<text class="c" transform="matrix(1,0,0,1.07,0,-61.152)" x="485.10" y="873.60" font-size="13.4" text-anchor="middle">80</text>
<text class="c" transform="matrix(1,0,0,1.07,0,-44.541)" x="351.00" y="636.30" font-size="13.7" text-anchor="start"><tspan font-style="italic">σ</tspan><tspan font-size="9.04" dy="3.42">1</tspan><tspan dy="-3.42">-</tspan><tspan font-style="italic">σ</tspan><tspan font-size="9.04" dy="3.42">3</tspan><tspan dy="-3.42">/MPa</tspan></text>
<text class="c" transform="matrix(1,0,0,1.07,0,-62.020)" x="203.60" y="886.00" font-size="13.8" text-anchor="start"><tspan font-style="italic">ε</tspan><tspan font-size="8.56" dy="2.76">3</tspan><tspan dy="-2.76">/10</tspan><tspan font-size="8.28" dy="-4.00">-3</tspan></text>
<text class="c" transform="matrix(1,0,0,1.07,0,-62.090)" x="449.10" y="887.00" font-size="13.8" text-anchor="start"><tspan font-style="italic">ε</tspan><tspan font-size="8.56" dy="2.76">1</tspan><tspan dy="-2.76">/10</tspan><tspan font-size="8.28" dy="-4.00">-3</tspan></text>
<text class="cap" transform="matrix(1,0,0,1.0,0,0.000)" x="274.20" y="920.20" font-size="16" text-anchor="start"><tspan>(e) CD-5, </tspan><tspan font-style="italic">σ</tspan><tspan font-size="9.92" dy="1.44">3</tspan><tspan dy="-1.44">=40 MPa</tspan></text>
<line x1="349.9" y1="824.1" x2="387.6" y2="824.1" stroke="#000" stroke-width="1.5" stroke-linecap="round"/>
<line x1="349.9" y1="844.2" x2="387.6" y2="844.2" stroke="#ff0000" stroke-width="1.5" stroke-dasharray="4.5 6.05" stroke-linecap="round"/>
<text class="c" transform="matrix(1,0,0,1.0,0,0.000)" x="392.10" y="829.30" font-size="13.4" text-anchor="start">Numerical curve</text>
<text class="c" transform="matrix(1,0,0,1.0,0,0.000)" x="392.10" y="848.90" font-size="13.4" text-anchor="start">Experimental curve</text>
<path d="M326.80,690.20 C326.80,690.20 327.82,689.08 328.30,688.50 C328.78,687.92 329.25,687.38 329.70,686.70 C330.15,686.02 330.55,685.20 331.00,684.40 C331.45,683.60 331.97,682.72 332.40,681.90 C332.83,681.08 333.23,680.32 333.60,679.50 C333.97,678.68 334.28,678.00 334.60,677.00 C334.92,676.00 335.23,674.58 335.50,673.50 C335.77,672.42 335.98,671.48 336.20,670.50 C336.42,669.52 336.62,668.50 336.80,667.60 C336.98,666.70 337.13,665.95 337.30,665.10 C337.47,664.25 337.67,663.13 337.80,662.50 C337.90,662.02 338.10,661.30 338.10,661.30 C338.10,661.30 338.37,663.82 338.50,665.50 C338.63,667.22 338.78,669.18 338.90,671.60 C339.02,674.02 339.12,677.30 339.20,680.00 C339.28,682.70 339.30,684.80 339.40,687.80 C339.50,690.80 339.65,694.40 339.80,698.00 C339.95,701.60 340.15,705.73 340.30,709.40 C340.45,713.07 340.57,716.40 340.70,720.00 C340.83,723.60 340.97,727.50 341.10,731.00 C341.23,734.50 341.38,737.85 341.50,741.00 C341.62,744.15 341.76,746.34 341.80,749.90 C341.92,759.73 342.07,782.95 342.20,800.00 C342.33,817.05 342.60,852.20 342.60,852.20 C342.60,852.20 344.52,830.37 345.50,820.00 C346.48,809.63 347.67,798.33 348.50,790.00 C349.30,782.00 349.85,776.68 350.50,770.00 C351.15,763.32 351.90,754.90 352.40,749.90 C352.80,745.94 353.13,743.15 353.50,740.00 C353.87,736.85 354.25,733.92 354.60,731.00 C354.95,728.08 355.25,725.20 355.60,722.50 C355.95,719.80 356.33,717.47 356.70,714.80 C357.07,712.13 357.43,709.20 357.80,706.50 C358.17,703.80 358.53,701.05 358.90,698.60 C359.27,696.15 359.65,693.97 360.00,691.80 C360.35,689.63 360.65,687.48 361.00,685.60 C361.35,683.72 361.73,682.12 362.10,680.50 C362.47,678.88 362.83,677.33 363.20,675.90 C363.57,674.47 363.93,673.15 364.30,671.90 C364.67,670.65 365.00,669.47 365.40,668.40 C365.80,667.33 366.25,666.40 366.70,665.50 C367.15,664.60 367.72,663.62 368.10,663.00 C368.42,662.49 368.70,662.08 369.00,661.80 C369.30,661.52 369.53,661.30 369.90,661.30 C370.27,661.30 370.78,661.52 371.20,661.80 C371.62,662.08 372.02,662.47 372.40,663.00 C372.78,663.53 373.13,664.28 373.50,665.00 C373.87,665.72 374.28,666.63 374.60,667.30 C374.92,667.97 375.13,668.47 375.40,669.00 C375.67,669.53 375.90,670.08 376.20,670.50 C376.50,670.92 376.85,671.13 377.20,671.50 C377.55,671.87 377.97,672.25 378.30,672.70 C378.63,673.15 378.92,673.67 379.20,674.20 C379.48,674.73 379.73,675.38 380.00,675.90 C380.27,676.42 380.53,676.85 380.80,677.30 C381.07,677.75 381.22,678.12 381.60,678.60 C382.00,679.10 382.67,679.75 383.20,680.30 C383.73,680.85 384.17,681.25 384.80,681.90 C385.43,682.55 386.30,683.47 387.00,684.20 C387.70,684.93 388.30,685.63 389.00,686.30 C389.70,686.97 390.47,687.60 391.20,688.20 C391.93,688.80 393.40,689.90 393.40,689.90" fill="none" stroke="#000" stroke-width="1.6" stroke-linejoin="round" stroke-linecap="round"/>
<path d="M222.20,702.80 C222.20,702.80 226.03,701.53 228.00,700.90 C229.97,700.27 232.20,699.57 234.00,699.00 C235.80,698.43 237.22,697.98 238.80,697.50 C240.38,697.02 241.92,696.53 243.50,696.10 C245.08,695.67 246.72,695.30 248.30,694.90 C249.88,694.50 251.43,694.10 253.00,693.70 C254.57,693.30 256.13,692.88 257.70,692.50 C259.27,692.12 260.82,691.80 262.40,691.40 C263.98,691.00 265.62,690.52 267.20,690.10 C268.78,689.68 270.32,689.27 271.90,688.90 C273.48,688.53 275.12,688.22 276.70,687.90 C278.28,687.58 279.82,687.35 281.40,687.00 C282.98,686.65 284.62,686.18 286.20,685.80 C287.78,685.42 289.33,685.12 290.90,684.70 C292.47,684.28 294.02,683.77 295.60,683.30 C297.18,682.83 298.80,682.35 300.40,681.90 C302.00,681.45 303.62,681.02 305.20,680.60 C306.78,680.18 308.48,679.70 309.90,679.40 C311.32,679.10 312.43,678.95 313.70,678.80 C314.97,678.65 316.37,678.53 317.50,678.50 C318.63,678.47 319.72,678.52 320.50,678.60 C321.19,678.67 322.20,679.00 322.20,679.00" fill="none" stroke="#ff0000" stroke-width="1.6" stroke-dasharray="4.2 6.3" stroke-linejoin="round" stroke-linecap="round"/>
<path d="M322.20,679.00 C322.20,679.00 323.78,679.72 324.50,680.10 C325.22,680.48 325.80,680.83 326.50,681.30 C327.20,681.77 327.98,682.35 328.70,682.90 C329.42,683.45 330.20,684.00 330.80,684.60 C331.40,685.20 331.85,685.78 332.30,686.50 C332.75,687.22 333.15,687.98 333.50,688.90 C333.85,689.82 334.13,690.92 334.40,692.00 C334.67,693.08 334.83,694.07 335.10,695.40 C335.37,696.73 335.73,698.57 336.00,700.00 C336.27,701.43 336.48,702.42 336.70,704.00 C336.92,705.58 337.12,707.70 337.30,709.50 C337.48,711.30 337.62,713.05 337.80,714.80 C337.98,716.55 338.22,718.20 338.40,720.00 C338.58,721.80 338.72,723.36 338.90,725.60 C339.08,727.93 339.32,731.30 339.50,734.00 C339.68,736.70 339.83,739.15 340.00,741.80 C340.17,744.45 340.38,746.66 340.50,749.90 C340.67,754.60 340.87,764.65 341.00,770.00 C341.12,774.80 341.30,782.00 341.30,782.00" fill="none" stroke="#ff0000" stroke-width="1.6" stroke-linejoin="round" stroke-linecap="round"/>
<path d="M341.30,782.00 C341.30,782.00 341.49,789.80 341.60,795.00 C341.72,800.50 341.88,808.33 342.00,815.00 C342.12,821.67 342.22,828.80 342.30,835.00 C342.38,841.20 342.50,852.20 342.50,852.20 C342.50,852.20 343.30,843.68 343.80,838.00 C344.30,832.30 344.97,824.33 345.50,818.00 C346.03,811.67 346.50,804.83 347.00,800.00 C347.46,795.58 348.08,792.33 348.50,789.00 C348.92,785.67 349.50,780.00 349.50,780.00" fill="none" stroke="#ff0000" stroke-width="1.6" stroke-dasharray="4.5 1.8" stroke-linejoin="round" stroke-linecap="round"/>
<path d="M349.50,780.00 C349.50,780.00 350.73,769.02 351.30,764.00 C351.87,758.98 352.48,753.48 352.90,749.90 C353.24,746.94 353.52,744.75 353.80,742.50 C354.08,740.25 354.23,738.82 354.60,736.40 C354.97,733.98 355.55,730.70 356.00,728.00 C356.45,725.30 356.87,722.45 357.30,720.20 C357.73,717.95 358.15,716.30 358.60,714.50 C359.05,712.70 359.60,710.90 360.00,709.40 C360.40,707.90 360.65,706.75 361.00,705.50 C361.35,704.25 361.73,703.07 362.10,701.90 C362.47,700.73 362.83,699.58 363.20,698.50 C363.57,697.42 363.93,696.32 364.30,695.40 C364.67,694.48 365.03,693.73 365.40,693.00 C365.77,692.27 366.15,691.70 366.50,691.00 C366.85,690.30 367.15,689.52 367.50,688.80 C367.85,688.08 368.23,687.33 368.60,686.70 C368.97,686.07 369.33,685.53 369.70,685.00 C370.07,684.47 370.43,684.00 370.80,683.50 C371.17,683.00 371.55,682.45 371.90,682.00 C372.25,681.55 372.55,681.15 372.90,680.80 C373.25,680.45 373.63,680.17 374.00,679.90 C374.37,679.63 374.65,679.42 375.10,679.20 C375.55,678.98 376.17,678.75 376.70,678.60 C377.23,678.45 378.30,678.30 378.30,678.30" fill="none" stroke="#ff0000" stroke-width="1.6" stroke-linejoin="round" stroke-linecap="round"/>
<path d="M456.90,702.80 C456.90,702.80 453.23,702.07 451.40,701.70 C449.57,701.33 447.80,701.02 445.90,700.60 C444.00,700.18 441.95,699.68 440.00,699.20 C438.05,698.72 436.02,698.20 434.20,697.70 C432.38,697.20 430.80,696.70 429.10,696.20 C427.40,695.70 425.70,695.18 424.00,694.70 C422.30,694.22 420.60,693.78 418.90,693.30 C417.20,692.82 415.50,692.32 413.80,691.80 C412.10,691.28 410.40,690.75 408.70,690.20 C407.00,689.65 405.18,689.08 403.60,688.50 C402.02,687.92 400.67,687.32 399.20,686.70 C397.73,686.08 396.17,685.42 394.80,684.80 C393.43,684.18 392.22,683.60 391.00,683.00 C389.78,682.40 388.53,681.75 387.50,681.20 C386.47,680.65 385.78,680.13 384.80,679.70 C383.82,679.27 382.68,678.83 381.60,678.60 C380.52,678.37 378.30,678.30 378.30,678.30" fill="none" stroke="#ff0000" stroke-width="1.6" stroke-dasharray="4.2 6.3" stroke-linejoin="round" stroke-linecap="round"/>
</svg></body></html>
